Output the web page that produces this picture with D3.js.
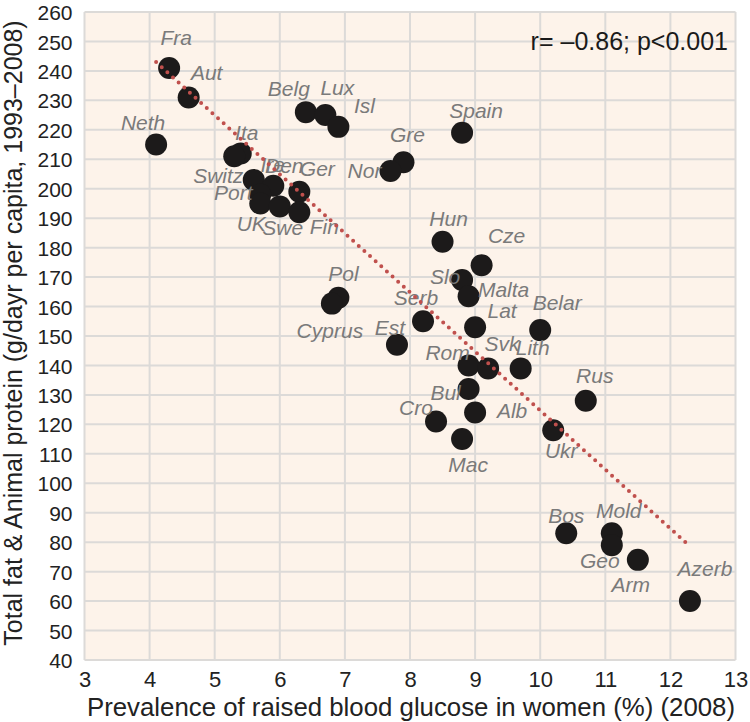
<!DOCTYPE html>
<html>
<head>
<meta charset="utf-8">
<script src="https://cdn.jsdelivr.net/npm/d3@7"></script>
<style>
  html, body { margin: 0; padding: 0; background: #ffffff; }
  svg { display: block; }
  text { font-family: "Liberation Sans", Arial, Helvetica, sans-serif; }
</style>
</head>
<body>
<svg id="chart" width="750" height="722"></svg>
<script>
// ---- Data ----
const countries = ["Fra","Aut","Neth","Belg","Lux","Isl","Spain","Ita","Switz","Gre","Nor","Ire","Den","Ger","Port","UK","Swe","Fin","Hun","Cze","Slo","Malta","Pol","Cyprus","Serb","Lat","Belar","Est","Rom","Svk","Lith","Bul","Rus","Alb","Cro","Ukr","Mac","Bos","Mold","Geo","Arm","Azerb"];
const glucose   = [4.3,4.6,4.1,6.4,6.7,6.9,8.8,5.4,5.3,7.9,7.7,5.6,5.9,6.3,5.7,5.7,6.0,6.3,8.5,9.1,8.8,8.9,6.9,6.8,8.2,9.0,10.0,7.8,8.9,9.2,9.7,8.9,10.7,9.0,8.4,10.2,8.8,10.4,11.1,11.1,11.5,12.3];
const protein   = [241,231,215,226,225,221,219,212,211,209,206,203,201,199,198,195,194,192,182,174,169,163.5,163,161,155,153,152,147,140,139,139,132,128,124,121,118,115,83,83,79,74,60];
const fitX = [4.1, 12.25];
const fitY = [243, 79.6];
const xTicks = [3,4,5,6,7,8,9,10,11,12,13];
const yTicks = d3.range(40, 261, 10);
const xTitle = "Prevalence of raised blood glucose in women (%) (2008)";
const yTitle = "Total fat & Animal protein (g/dayr per capita, 1993\u20132008)";
const statText = "r= \u20130.86; p<0.001";

// label offsets (pixels, from dot centre to label centre)
const labelOffsets = {
  Fra:[7,-30], Aut:[18,-25], Neth:[-13,-22], Belg:[-17,-23], Lux:[12,-27], Isl:[26,-21],
  Spain:[14,-22], Ita:[6,-21], Switz:[-16,19], Gre:[4,-28], Nor:[-26,0], Ire:[19,-15],
  Den:[11,-20], Ger:[18,-23], Port:[-27,-2], UK:[-9,20], Swe:[3,21], Fin:[25,14],
  Hun:[6,-23], Cze:[25,-30], Slo:[-17,-3], Malta:[35,-7], Pol:[5,-24], Cyprus:[-2,27],
  Serb:[-7,-24], Lat:[27,-17], Belar:[17,-27], Est:[-7,-17], Rom:[-21,-13], Svk:[14,-25],
  Lith:[12,-21], Bul:[-23,4], Rus:[9,-25], Alb:[37,-2], Cro:[-20,-14], Ukr:[8,20],
  Mac:[6,26], Bos:[0,-18], Mold:[7,-23], Geo:[-12,16], Arm:[-7,25], Azerb:[15,-32]
};

// ---- Layout ----
const L = 84.5, R = 735.5, T = 12, B = 660;
const svg = d3.select("#chart");
const x = d3.scaleLinear().domain([3,13]).range([L,R]);
const y = d3.scaleLinear().domain([40,260]).range([B,T]);
const gridColor = "#dcdad8";

svg.append("rect").attr("x",L).attr("y",T).attr("width",R-L).attr("height",B-T)
  .attr("fill","#fdf3ea");

// grid
const g = svg.append("g");
g.selectAll("line.gx").data(xTicks).join("line")
  .attr("x1",d=>x(d)).attr("x2",d=>x(d)).attr("y1",T).attr("y2",B)
  .attr("stroke",gridColor).attr("stroke-width",2);
g.selectAll("line.gy").data(yTicks).join("line")
  .attr("y1",d=>y(d)).attr("y2",d=>y(d)).attr("x1",L).attr("x2",R)
  .attr("stroke",gridColor).attr("stroke-width",2);

// axes (tick labels only)
const xAxis = d3.axisBottom(x).tickValues(xTicks).tickSize(0).tickPadding(0).tickFormat(d3.format("d"));
const xa = svg.append("g").attr("transform",`translate(0,${B})`).call(xAxis);
xa.select(".domain").remove();
xa.selectAll("text").attr("y",27).attr("dy",0).attr("font-size",22).attr("fill","#222")
  .style("font-family","'Liberation Sans', Arial, sans-serif");

const yAxis = d3.axisLeft(y).tickValues(yTicks).tickSize(0).tickPadding(12).tickFormat(d3.format("d"));
const ya = svg.append("g").attr("transform",`translate(${L},0)`).call(yAxis);
ya.select(".domain").remove();
ya.selectAll("text").attr("dy","0.36em").attr("font-size",21).attr("fill","#222")
  .style("font-family","'Liberation Sans', Arial, sans-serif");

// titles
svg.append("text").attr("x",411).attr("y",716).attr("text-anchor","middle")
  .attr("font-size",25.8).attr("fill","#222").text(xTitle);
svg.append("text").attr("transform",`translate(22,333) rotate(-90)`)
  .attr("text-anchor","middle").attr("font-size",25).attr("fill","#222").text(yTitle);

// data
const data = countries.map((c,i)=>({name:c, gx:glucose[i], p:protein[i]}));

svg.append("g").selectAll("circle").data(data).join("circle")
  .attr("cx",d=>x(d.gx)).attr("cy",d=>y(d.p)).attr("r",11).attr("fill","#1c1a1a");

svg.append("g").selectAll("text").data(data).join("text")
  .attr("x",d=>x(d.gx)+labelOffsets[d.name][0])
  .attr("y",d=>y(d.p)+labelOffsets[d.name][1])
  .attr("dy","0.35em")
  .attr("text-anchor","middle")
  .attr("font-size",21).attr("font-style","italic").attr("fill","#7a7a7a")
  .text(d=>d.name);

// regression line
svg.append("line")
  .attr("x1",x(fitX[0])).attr("y1",y(fitY[0])).attr("x2",x(fitX[1])).attr("y2",y(fitY[1]))
  .attr("stroke","#c0504d").attr("stroke-width",4).attr("stroke-linecap","round")
  .attr("stroke-dasharray","0 7.6");

// stats annotation
svg.append("text").attr("x",728).attr("y",50).attr("text-anchor","end")
  .attr("font-size",25).attr("fill","#1a1a1a").text(statText);
</script>
</body>
</html>
